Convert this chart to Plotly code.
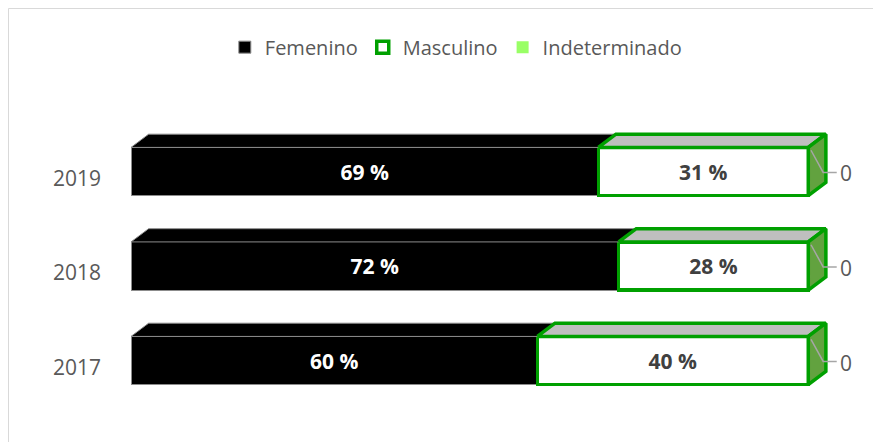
import plotly.graph_objects as go

years = ["2017", "2018", "2019"]
femenino = [60, 72, 69]
masculino = [40, 28, 31]
indeterminado = [0, 0, 0]

FONT = "Open Sans"
GRAY_TXT = "#595959"
GREEN = "#00A000"
SIDE_GREEN = "#62A23F"
LIGHT_GREEN = "#99FF66"

W = 0.51         # front face height (y units)
DX = 0.026       # depth offset in x units
DY = 0.14        # depth offset in y units

ypos = list(range(len(years)))

fig = go.Figure()

fig.add_trace(go.Bar(
    name="Femenino", y=ypos, x=[v / 100 for v in femenino], orientation="h",
    width=W, marker=dict(color="#000000", line=dict(color="#8C8C8C", width=1)),
    text=[f"{v} %" for v in femenino], textposition="inside", insidetextanchor="middle",
    textfont=dict(family=FONT, size=21, color="white", weight="bold"),
    hoverinfo="skip",
))
fig.add_trace(go.Bar(
    name="Masculino", y=ypos, x=[v / 100 for v in masculino], orientation="h",
    width=W, marker=dict(color="white", line=dict(color=GREEN, width=3.5)),
    text=[f"{v} %" for v in masculino], textposition="inside", insidetextanchor="middle",
    textfont=dict(family=FONT, size=21, color="#404040", weight="bold"),
    hoverinfo="skip",
))
fig.add_trace(go.Bar(
    name="Indeterminado", y=ypos, x=[v / 100 for v in indeterminado], orientation="h",
    width=W, marker=dict(color=LIGHT_GREEN, line=dict(width=0)),
    hoverinfo="skip",
))

# 3D faces computed from the data
for i, yc in enumerate(ypos):
    f = femenino[i] / 100
    m = masculino[i] / 100
    total = f + m + indeterminado[i] / 100
    top = yc + W / 2
    bot = yc - W / 2
    # Femenino top face
    fig.add_trace(go.Scatter(
        x=[0, DX, f + DX, f, 0], y=[top, top + DY, top + DY, top, top],
        fill="toself", fillcolor="#000000", mode="lines",
        line=dict(color="#8C8C8C", width=1), showlegend=False, hoverinfo="skip"))
    # Masculino top face
    fig.add_trace(go.Scatter(
        x=[f, f + DX, f + m + DX, f + m, f], y=[top, top + DY, top + DY, top, top],
        fill="toself", fillcolor="#BFBFBF", mode="lines",
        line=dict(color=GREEN, width=3.5), showlegend=False, hoverinfo="skip"))
    # Masculino side face
    fig.add_trace(go.Scatter(
        x=[f + m, f + m + DX, f + m + DX, f + m, f + m], y=[top, top + DY, bot + DY, bot, top],
        fill="toself", fillcolor=SIDE_GREEN, mode="lines",
        line=dict(color=GREEN, width=3.5), showlegend=False, hoverinfo="skip"))
    # Leader line for Indeterminado label
    fig.add_trace(go.Scatter(
        x=[total + 0.004, total + 0.022, total + 0.042], y=[top - 0.03, yc - 0.01, yc - 0.01],
        mode="lines", line=dict(color="#A6A6A6", width=1.5), showlegend=False, hoverinfo="skip"))

# Indeterminado value labels
fig.add_trace(go.Scatter(
    x=[(femenino[i] + masculino[i] + indeterminado[i]) / 100 + 0.047 for i in range(len(years))],
    y=[yc - 0.05 for yc in ypos], mode="text",
    text=[str(v) for v in indeterminado], textposition="middle right",
    textfont=dict(family=FONT, size=21, color=GRAY_TXT), showlegend=False, hoverinfo="skip"))

fig.update_layout(
    width=881, height=442,
    margin=dict(l=123, r=13, t=100, b=20),
    barmode="stack",
    bargap=0.5,
    plot_bgcolor="white", paper_bgcolor="white",
    font=dict(family=FONT, size=21, color=GRAY_TXT),
    showlegend=True,
    legend=dict(orientation="h", x=0.436, y=1.189, xanchor="center", yanchor="middle",
                font=dict(family=FONT, size=20, color=GRAY_TXT), traceorder="normal",
                itemwidth=30, bgcolor="rgba(0,0,0,0)"),
    xaxis=dict(range=[0, 1.1], visible=False, showgrid=False, zeroline=False, fixedrange=True),
    yaxis=dict(range=[-0.735, 2.672], tickvals=ypos, ticktext=years, showgrid=False,
               zeroline=False, showline=False, ticks="", ticklabelstandoff=29,
               ticklabelshift=7, tickfont=dict(family=FONT, size=21, color=GRAY_TXT),
               fixedrange=True),
    shapes=[dict(type="rect", xref="paper", yref="paper",
                 x0=(0.5 - 123) / 745, x1=(890 - 123) / 745,
                 y0=(422 - 450) / 322, y1=(422 - 0.5) / 322,
                 line=dict(color="#D9D9D9", width=1), fillcolor="rgba(0,0,0,0)", layer="below")],
)

fig.write_html("out.html")
